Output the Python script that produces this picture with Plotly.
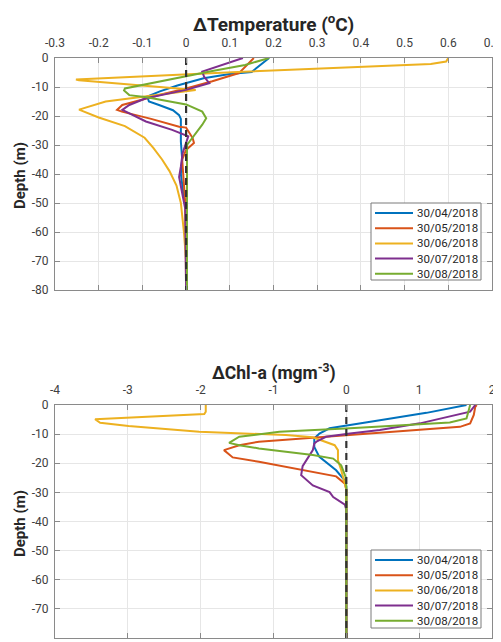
import plotly.graph_objects as go

# ---------------- data ----------------
dates = ["30/04/2018", "30/05/2018", "30/06/2018", "30/07/2018", "30/08/2018"]
colors = ["#0072BD", "#D95319", "#EDB120", "#7E2F8E", "#77AC30"]

# Delta temperature profiles (x = dT in degC, d = depth in m)
t0430_x = [0.19, 0.17, 0.15, 0.10, 0.04, -0.02, -0.06, -0.089, -0.085, -0.062, -0.03, -0.016, -0.012, -0.012, -0.012, -0.009, -0.012, -0.006, 0.0, 0.0]
t0430_d = [0, -2.5, -4.8, -5.5, -7, -9.5, -11.5, -13.3, -15, -16.2, -18, -19.7, -21, -23.7, -28.8, -35, -40, -47, -52, -80]
t0530_x = [0.155, 0.144, 0.121, 0.06, 0.0, -0.05, -0.092, -0.146, -0.158, -0.147, -0.08, -0.016, 0.0, 0.015, 0.018, 0.0, -0.009, -0.005, -0.002, 0.0]
t0530_d = [0, -1.7, -5.2, -8, -10.5, -12.3, -13.9, -16.2, -17.9, -18.5, -21, -23.7, -24, -27.6, -29.3, -31.7, -35, -42, -50, -80]
t0630_x = [0.60, 0.595, 0.56, 0.105, -0.252, -0.245, 0.022, -0.184, -0.245, -0.20, -0.14, -0.095, -0.075, -0.055, -0.038, -0.022, -0.012, -0.005, 0.0, 0.0]
t0630_d = [0, -1.2, -2.1, -4.9, -7.4, -7.7, -11, -15, -17.8, -20.5, -23.5, -27.5, -31, -35, -39, -44, -50, -60, -70, -80]
t0730_x = [0.13, 0.08, 0.037, 0.041, 0.053, 0.0, -0.092, -0.13, -0.146, -0.092, -0.032, 0.005, -0.008, -0.012, -0.016, -0.009, -0.002, 0.0]
t0730_d = [0, -2.5, -4.7, -6.4, -8.7, -11, -13.9, -16.2, -17.9, -21.9, -24.8, -27, -32.8, -37.5, -41, -46.6, -52, -80]
t0830_x = [0.19, 0.135, 0.06, 0.0, -0.07, -0.14, -0.142, -0.13, -0.09, 0.0, 0.037, 0.046, 0.037, 0.014, 0.002, 0.002, 0.002]
t0830_d = [0, -2.4, -4.5, -6.3, -8.3, -10.5, -11.2, -12.8, -13.5, -16, -18.5, -20.8, -23, -27.5, -30, -40, -80]

# Delta Chl-a profiles (x = dChl in mg m-3, d = depth in m)
c0430_x = [1.65, 1.1, 0.46, 0.05, -0.23, -0.37, -0.44, -0.44, -0.37, -0.14, -0.02, 0.0, 0.0]
c0430_d = [0, -2.7, -5.2, -6.9, -8, -9.8, -11.5, -14.4, -17.8, -22.4, -26, -28, -80]
c0530_x = [1.79, 1.77, 1.75, 1.70, 1.56, 0.05, -1.2, -1.47, -1.68, -1.56, -1.2, -0.14, -0.02, 0.0, 0.0]
c0530_d = [0, -0.6, -3.4, -6.3, -7.5, -10.3, -12.6, -13.8, -15.5, -18, -19.5, -24.5, -27, -29, -80]
c0630_x = [-1.93, -1.93, -1.95, -3.45, -3.38, -2.99, -2.02, -1.2, -0.83, -0.46, -0.28, -0.16, -0.115, -0.115, -0.07, -0.02, 0.0, 0.0]
c0630_d = [0, -2.3, -3.1, -4.9, -6.1, -7.2, -9.2, -10, -10.3, -11.1, -12.6, -13.8, -15.5, -19, -22.4, -27, -29, -80]
c0730_x = [1.77, 1.70, 1.01, 0.46, 0.05, -0.28, -0.41, -0.44, -0.46, -0.60, -0.62, -0.55, -0.46, -0.23, -0.18, -0.02, 0.0, 0.0]
c0730_d = [0, -2.3, -6.3, -8.6, -9.8, -10.9, -12.6, -13.2, -15.5, -21, -24.1, -25.5, -27.6, -29.9, -31.6, -34.2, -36, -80]
c0830_x = [1.70, 1.68, 1.65, 1.42, 0.46, 0.05, -0.92, -1.47, -1.61, -1.47, -1.2, -0.46, -0.18, -0.07, -0.01, 0.0, 0.0]
c0830_d = [0, -2, -4.6, -6, -7.5, -8, -9.2, -10.9, -13, -13.8, -14.9, -17.2, -18.4, -20.7, -24.7, -28, -80]

zero_x = [0, 0]
zero_d = [0, -80]

temp_ticks = [-0.3, -0.2, -0.1, 0, 0.1, 0.2, 0.3, 0.4, 0.5, 0.6, 0.7]
temp_ticklabels = ["-0.3", "-0.2", "-0.1", "0", "0.1", "0.2", "0.3", "0.4", "0.5", "0.6", "0.7"]
chl_ticks = [-4, -3, -2, -1, 0, 1, 2]
chl_ticklabels = ["-4", "-3", "-2", "-1", "0", "1", "2"]
depth_ticks = [0, -10, -20, -30, -40, -50, -60, -70, -80]
depth_ticklabels = ["0", "-10", "-20", "-30", "-40", "-50", "-60", "-70", "-80"]

temp_series = [(t0430_x, t0430_d), (t0530_x, t0530_d), (t0630_x, t0630_d), (t0730_x, t0730_d), (t0830_x, t0830_d)]
chl_series = [(c0430_x, c0430_d), (c0530_x, c0530_d), (c0630_x, c0630_d), (c0730_x, c0730_d), (c0830_x, c0830_d)]

# ---------------- layout geometry ----------------
# The page body has an 8px margin, so the figure is shifted by 8px;
# page-pixel targets below are converted accordingly.
OFF = 8
PAGE_W, PAGE_H = 501, 642
PLOT_L, PLOT_R, PLOT_T, PLOT_B = 55, 492, 58, 638     # page pixels of the plotting area
W, H = PAGE_W - OFF, PAGE_H - OFF
ML, MT = PLOT_L - OFF, PLOT_T - OFF
MR, MB = W - (PLOT_R - OFF), H - (PLOT_B - OFF)
PW, PH = W - ML - MR, H - MT - MB


def px_x(px):
    return (px - PLOT_L) / PW


def px_y(py):
    return 1 - (py - PLOT_T) / PH


FONT = "Roboto, Noto Sans, sans-serif"
fig = go.Figure()

for (x, d), name, col in zip(temp_series, dates, colors):
    fig.add_trace(go.Scatter(x=x, y=d, mode="lines", name=name, line=dict(color=col, width=2),
                             xaxis="x", yaxis="y", showlegend=False))
fig.add_trace(go.Scatter(x=zero_x, y=zero_d, mode="lines", showlegend=False,
                         line=dict(color="#333333", width=2.2, dash="7px,5px"), xaxis="x", yaxis="y"))

for (x, d), name, col in zip(chl_series, dates, colors):
    fig.add_trace(go.Scatter(x=x, y=d, mode="lines", name=name, line=dict(color=col, width=2),
                             xaxis="x2", yaxis="y2", showlegend=False))
fig.add_trace(go.Scatter(x=zero_x, y=zero_d, mode="lines", showlegend=False,
                         line=dict(color="#333333", width=2.2, dash="7px,5px"), xaxis="x2", yaxis="y2"))

axis_common = dict(showline=True, linecolor="#8a8a8a", linewidth=1.3, mirror="ticks",
                   ticks="inside", ticklen=5, tickcolor="#8a8a8a", showgrid=True,
                   gridcolor="#e6e6e6", gridwidth=1, zeroline=False, automargin=False,
                   tickfont=dict(family=FONT, size=12, color="#404040"))

# ---- custom legends (compact MATLAB-style) ----
shapes = []
annotations = []
for box_top, box_bot, first_y in [(203, 280, 213), (550, 628, 560)]:
    shapes.append(dict(type="rect", xref="paper", yref="paper",
                       x0=px_x(371), x1=px_x(481), y0=px_y(box_bot), y1=px_y(box_top),
                       line=dict(color="#7a7a7a", width=1), fillcolor="white", layer="above"))
    for i, (name, col) in enumerate(zip(dates, colors)):
        yy = px_y(first_y + i * 15.2)
        shapes.append(dict(type="line", xref="paper", yref="paper",
                           x0=px_x(375), x1=px_x(413), y0=yy, y1=yy,
                           line=dict(color=col, width=2), layer="above"))
        annotations.append(dict(text=name, xref="paper", yref="paper", x=px_x(415), y=yy,
                                xanchor="left", yanchor="middle", showarrow=False,
                                font=dict(family=FONT, size=11.5, color="#262626")))

annotations += [
    dict(text="<b>\u0394Temperature (<sup>o</sup>C)</b>", xref="paper", yref="paper",
         x=0.5, y=px_y(23), xanchor="center", yanchor="middle", showarrow=False,
         font=dict(family=FONT, size=19, color="#262626")),
    dict(text="<b>\u0394Chl-a (mgm<sup>-3</sup>)</b>", xref="paper", yref="paper",
         x=0.5, y=px_y(372), xanchor="center", yanchor="middle", showarrow=False,
         font=dict(family=FONT, size=17.5, color="#262626")),
    dict(text="<b>Depth (m)</b>", xref="paper", yref="paper", x=px_x(20), y=px_y(176),
         xanchor="center", yanchor="middle", textangle=-90, showarrow=False,
         font=dict(family=FONT, size=15, color="#262626")),
    dict(text="<b>Depth (m)</b>", xref="paper", yref="paper", x=px_x(20), y=px_y(524),
         xanchor="center", yanchor="middle", textangle=-90, showarrow=False,
         font=dict(family=FONT, size=15, color="#262626")),
]

fig.update_layout(
    width=W, height=H,
    margin=dict(l=ML, r=MR, t=MT, b=MB, autoexpand=False),
    paper_bgcolor="white", plot_bgcolor="white",
    font=dict(family=FONT),
    showlegend=False,
    xaxis=dict(domain=[0, 1], anchor="y", side="top", range=[-0.3, 0.7],
               tickvals=temp_ticks, ticktext=temp_ticklabels, ticklabelstandoff=5, **axis_common),
    yaxis=dict(domain=[px_y(290), 1], anchor="x", range=[-80, 0],
               tickvals=depth_ticks, ticktext=depth_ticklabels, ticklabelstandoff=3, **axis_common),
    xaxis2=dict(domain=[0, 1], anchor="y2", side="top", range=[-4, 2],
                tickvals=chl_ticks, ticktext=chl_ticklabels, ticklabelstandoff=5, **axis_common),
    yaxis2=dict(domain=[0, px_y(405)], anchor="x2", range=[-80, 0],
                tickvals=depth_ticks, ticktext=depth_ticklabels, ticklabelstandoff=3, **axis_common),
    shapes=shapes,
    annotations=annotations,
)

fig.write_html("out.html")
